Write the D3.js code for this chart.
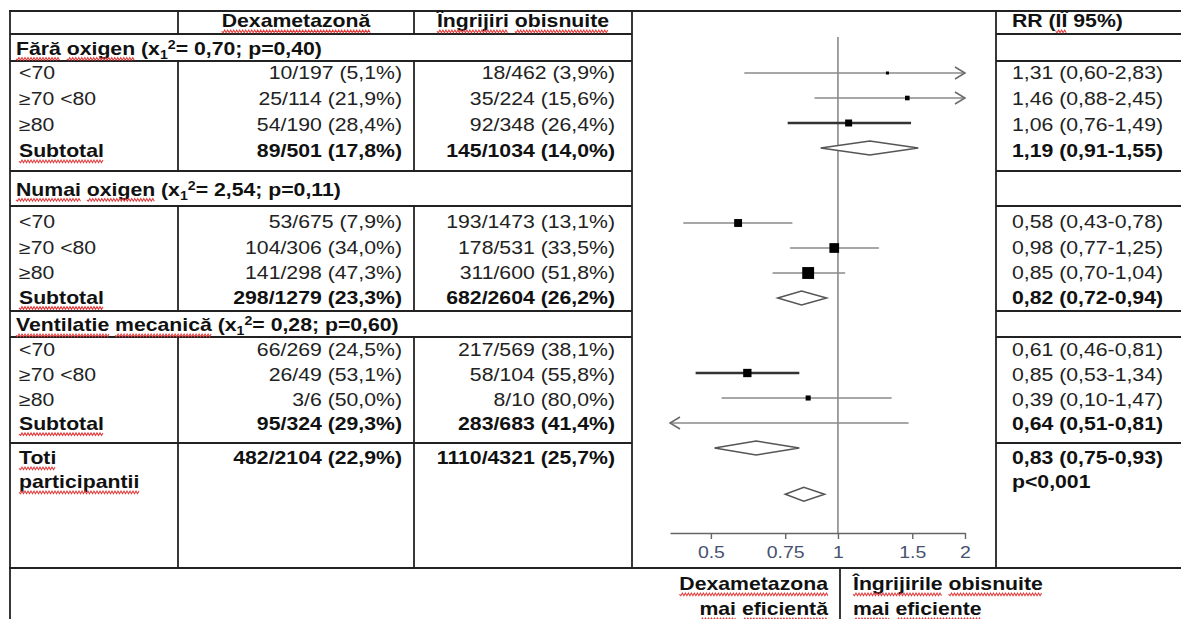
<!DOCTYPE html>
<html><head><meta charset="utf-8">
<script src="https://cdn.jsdelivr.net/npm/d3@7/dist/d3.min.js"></script>
<style>body{margin:0;background:#fff}svg{display:block}</style>
</head><body>
<svg id="c" width="1181" height="619"></svg>
<script>
// ---------------- DATA ----------------
const headers = ["Dexametazonă", "Îngrijiri obisnuite", "RR (IÎ 95%)"];
const groupNames = ["Fără oxigen", "Numai oxigen", "Ventilatie mecanică"];
const groupChi = ["0,70", "2,54", "0,28"];
const groupP = ["0,40", "0,11", "0,60"];
const ageLabels = ["<70", "≥70 <80", "≥80"];
const subtotalLabel = "Subtotal";
const dexEvents = [[10, 25, 54], [53, 104, 141], [66, 26, 3]];
const dexTotal = [[197, 114, 190], [675, 306, 298], [269, 49, 6]];
const usualEvents = [[18, 35, 92], [193, 178, 311], [217, 58, 8]];
const usualTotal = [[462, 224, 348], [1473, 531, 600], [569, 104, 10]];
const subDexEvents = [89, 298, 95], subDexTotal = [501, 1279, 324];
const subUsualEvents = [145, 682, 283], subUsualTotal = [1034, 2604, 683];
const rrEst = [[1.31, 1.46, 1.06], [0.58, 0.98, 0.85], [0.61, 0.85, 0.39]];
const rrLow = [[0.60, 0.88, 0.76], [0.43, 0.77, 0.70], [0.46, 0.53, 0.10]];
const rrHigh = [[2.83, 2.45, 1.49], [0.78, 1.25, 1.04], [0.81, 1.34, 1.47]];
const subEst = [1.19, 0.82, 0.64], subLow = [0.91, 0.72, 0.51], subHigh = [1.55, 0.94, 0.81];
const overallLabel = ["Toti", "participantii"];
const allDex = [482, 2104], allUsual = [1110, 4321];
const allRR = [0.83, 0.75, 0.93], allP = "p<0,001";
const axisDomain = [0.4, 2];
const axisTicks = [0.5, 0.75, 1, 1.5, 2];
const sideLabels = [["Dexametazona", "mai eficientă"], ["Îngrijirile obisnuite", "mai eficiente"]];

// ---------------- HELPERS ----------------
const FONT = "'Liberation Sans', Arial, sans-serif";
const SX = 1.18; // horizontal stretch of the reference text
const svg = d3.select("#c");
const fmt2 = v => v.toFixed(2).replace(".", ",");
const pct = (e, n) => `${e}/${n} (${(100 * e / n).toFixed(1).replace(".", ",")}%)`;
const rrText = (e, l, h) => `${fmt2(e)} (${fmt2(l)}-${fmt2(h)})`;

function squiggle(node, x, y, anchor, words) {
  const full = node.textContent;
  const total = node.getComputedTextLength();
  const start = anchor === "end" ? x - total * SX : (anchor === "middle" ? x - total * SX / 2 : x);
  words.forEach(w => {
    const idx = full.indexOf(w);
    if (idx < 0) return;
    const a = idx > 0 ? node.getSubStringLength(0, idx) : 0;
    const len = node.getSubStringLength(idx, w.length);
    const x0 = start + a * SX, x1 = x0 + len * SX, yy = y + 4;
    let d = `M${x0},${yy}`, k = 0;
    for (let xx = x0 + 1.5; xx <= x1; xx += 1.5, k++) d += ` L${xx},${yy + (k % 2 === 0 ? 1.3 : -1.3)}`;
    svg.append("path").attr("d", d).attr("fill", "none").attr("stroke", "#e23a3a").attr("stroke-width", 1.1);
  });
}

function txt(x, y, s, o = {}) {
  const t = svg.append("text")
    .attr("transform", `translate(${x},${y}) scale(${SX},1)`)
    .attr("text-anchor", o.anchor || "start")
    .attr("font-family", FONT)
    .attr("font-size", o.size || 18)
    .attr("font-weight", o.bold ? "bold" : "normal")
    .attr("fill", o.fill || (o.bold ? "#111" : "#222"))
    .text(s);
  if (o.sq) squiggle(t.node(), x, y, o.anchor || "start", o.sq);
  return t;
}

// ---------------- TABLE GRID ----------------
const colX = [10, 178, 414, 632, 996, 1181];
const tableTop = 11, tableBottom = 568;
const headBottom = 34;
const groupHeadBottom = [61, 206, 337];
const groupBottom = [171, 311, 443];
const groupTop = [34, 171, 311];
const rowStart = [73, 222, 350], rowPitch = [26, 25.2, 24.6];
const grid = svg.append("g").attr("stroke", "#222").attr("stroke-width", 1.8).attr("fill", "none");
const hl = (x1, x2, y) => grid.append("line").attr("x1", x1).attr("x2", x2).attr("y1", y).attr("y2", y);
const vl = (x, y1, y2) => grid.append("line").attr("x1", x).attr("x2", x).attr("y1", y1).attr("y2", y2);
hl(colX[0] - 1, colX[5], tableTop);
hl(colX[0] - 1, colX[5], tableBottom);
[headBottom, ...groupHeadBottom, ...groupBottom].forEach(y => { hl(colX[0], colX[3], y); hl(colX[4], colX[5], y); });
vl(colX[0], tableTop, 619);
vl(colX[3], tableTop, tableBottom);
vl(colX[4], tableTop, tableBottom);
[colX[1], colX[2]].forEach(x => {
  vl(x, tableTop, headBottom);
  groupNames.forEach((_, g) => vl(x, groupHeadBottom[g], groupBottom[g]));
  vl(x, groupBottom[2], tableBottom);
});
vl(840, tableBottom, 619);

// ---------------- TABLE TEXT ----------------
const xLab = 19, xDexR = 402, xUsR = 615, xRR = 1012, base = 6.4;
txt((colX[1] + colX[2]) / 2, 21 + base, headers[0], { anchor: "middle", bold: true, sq: ["Dexametazonă"] });
txt((colX[2] + colX[3]) / 2, 21 + base, headers[1], { anchor: "middle", bold: true, sq: ["Îngrijiri", "obisnuite"] });
txt(xRR, 21 + base, headers[2], { bold: true, sq: ["IÎ"] });

groupNames.forEach((name, g) => {
  const yc = (groupTop[g] + groupHeadBottom[g]) / 2 + 1;
  const t = svg.append("text")
    .attr("transform", `translate(${xLab - 3},${yc + base}) scale(${SX},1)`)
    .attr("font-family", FONT).attr("font-size", 18).attr("font-weight", "bold").attr("fill", "#111");
  t.append("tspan").text(`${name} (x`);
  t.append("tspan").attr("font-size", 12).attr("dy", 4).text("1");
  t.append("tspan").attr("font-size", 12).attr("dy", -10).text("2");
  t.append("tspan").attr("dy", 6).text(`= ${groupChi[g]}; p=${groupP[g]})`);
  squiggle(t.node(), xLab - 3, yc + base, "start", name.split(" "));

  ageLabels.forEach((lab, i) => {
    const y = rowStart[g] + i * rowPitch[g] + base;
    txt(xLab, y, lab);
    txt(xDexR, y, pct(dexEvents[g][i], dexTotal[g][i]), { anchor: "end" });
    txt(xUsR, y, pct(usualEvents[g][i], usualTotal[g][i]), { anchor: "end" });
    txt(xRR, y, rrText(rrEst[g][i], rrLow[g][i], rrHigh[g][i]));
  });
  const ys = rowStart[g] + 3 * rowPitch[g] + base;
  txt(xLab, ys, subtotalLabel, { bold: true, sq: [subtotalLabel] });
  txt(xDexR, ys, pct(subDexEvents[g], subDexTotal[g]), { anchor: "end", bold: true });
  txt(xUsR, ys, pct(subUsualEvents[g], subUsualTotal[g]), { anchor: "end", bold: true });
  txt(xRR, ys, rrText(subEst[g], subLow[g], subHigh[g]), { bold: true });
});

txt(xLab, 458 + base, overallLabel[0], { bold: true, sq: [overallLabel[0]] });
txt(xLab, 482 + base, overallLabel[1], { bold: true, sq: [overallLabel[1]] });
txt(xDexR, 458 + base, pct(allDex[0], allDex[1]), { anchor: "end", bold: true });
txt(xUsR, 458 + base, pct(allUsual[0], allUsual[1]), { anchor: "end", bold: true });
txt(xRR, 458 + base, rrText(allRR[0], allRR[1], allRR[2]), { bold: true });
txt(xRR, 482 + base, allP, { bold: true });

// ---------------- FOREST PLOT ----------------
const x = d3.scaleLog().domain(axisDomain).range([670, 965]);
const plotY = d3.scaleLinear().domain([0, 1]).range([73, 98]);
const boxSize = d3.scaleLinear().domain([0, 1]).range([0, 4.7]);
const thick = new Set(["0-2", "2-0"]);

const items = [];
groupNames.forEach((_, g) => {
  ageLabels.forEach((_, i) => items.push({ key: `${g}-${i}`, type: "box", row: g * 6 + i, est: rrEst[g][i], lo: rrLow[g][i], hi: rrHigh[g][i] }));
  items.push({ key: `${g}-s`, type: "diamond", row: g * 6 + 3, est: subEst[g], lo: subLow[g], hi: subHigh[g] });
});
items.push({ key: "all", type: "diamond", row: 16.85, est: allRR[0], lo: allRR[1], hi: allRR[2] });

const fp = svg.append("g");
const axisY = 533;
fp.append("line").attr("x1", x(1)).attr("x2", x(1)).attr("y1", 37).attr("y2", axisY)
  .attr("stroke", "#8a8a8a").attr("stroke-width", 1.6);

const [dMin, dMax] = axisDomain;
items.filter(d => d.type === "box").forEach(d => {
  const y = plotY(d.row);
  const isThick = thick.has(d.key);
  const col = isThick ? "#333" : "#8a8a8a", sw = isThick ? 2.3 : 1.4;
  const x1 = x(Math.max(d.lo, dMin)), x2 = x(Math.min(d.hi, dMax));
  fp.append("line").attr("x1", x1).attr("x2", x2).attr("y1", y).attr("y2", y).attr("stroke", col).attr("stroke-width", sw);
  if (d.hi > dMax) fp.append("path").attr("d", `M${x2 - 10},${y - 6} L${x2},${y} L${x2 - 10},${y + 6}`)
    .attr("fill", "none").attr("stroke", "#6a6a6a").attr("stroke-width", 1.5);
  if (d.lo < dMin) fp.append("path").attr("d", `M${x1 + 10},${y - 6} L${x1},${y} L${x1 + 10},${y + 6}`)
    .attr("fill", "none").attr("stroke", "#6a6a6a").attr("stroke-width", 1.5);
  if (d.est >= dMin && d.est <= dMax) {
    const s = boxSize(1 / Math.log(d.hi / d.lo));
    fp.append("rect").attr("x", x(d.est) - s / 2).attr("y", y - s / 2).attr("width", s).attr("height", s).attr("fill", "#000");
  }
});
items.filter(d => d.type === "diamond").forEach(d => {
  const y = plotY(d.row), h = 7;
  fp.append("polygon")
    .attr("points", `${x(d.lo)},${y} ${x(d.est)},${y - h} ${x(d.hi)},${y} ${x(d.est)},${y + h}`)
    .attr("fill", "#fff").attr("stroke", "#555").attr("stroke-width", 1.5);
});

const ax = fp.append("g").attr("transform", `translate(0,${axisY})`)
  .call(d3.axisBottom(x).tickValues(axisTicks).tickFormat(d => String(d)).tickSizeInner(6).tickSizeOuter(0).tickPadding(7));
ax.select(".domain").attr("stroke", "#666").attr("stroke-width", 1.4);
ax.selectAll(".tick line").attr("stroke", "#666").attr("stroke-width", 1.4);
ax.selectAll(".tick text").attr("font-family", FONT).attr("font-size", 16.5).attr("fill", "#46526f")
  .attr("transform", `scale(${SX},1)`);

// ---------------- BOTTOM LABELS ----------------
txt(828, 584 + base, sideLabels[0][0], { anchor: "end", bold: true, sq: ["Dexametazona"] });
txt(828, 609 + base, sideLabels[0][1], { anchor: "end", bold: true, sq: ["mai", "eficientă"] });
txt(853, 584 + base, sideLabels[1][0], { bold: true, sq: ["Îngrijirile", "obisnuite"] });
txt(853, 609 + base, sideLabels[1][1], { bold: true, sq: ["mai", "eficiente"] });
</script>
</body></html>
